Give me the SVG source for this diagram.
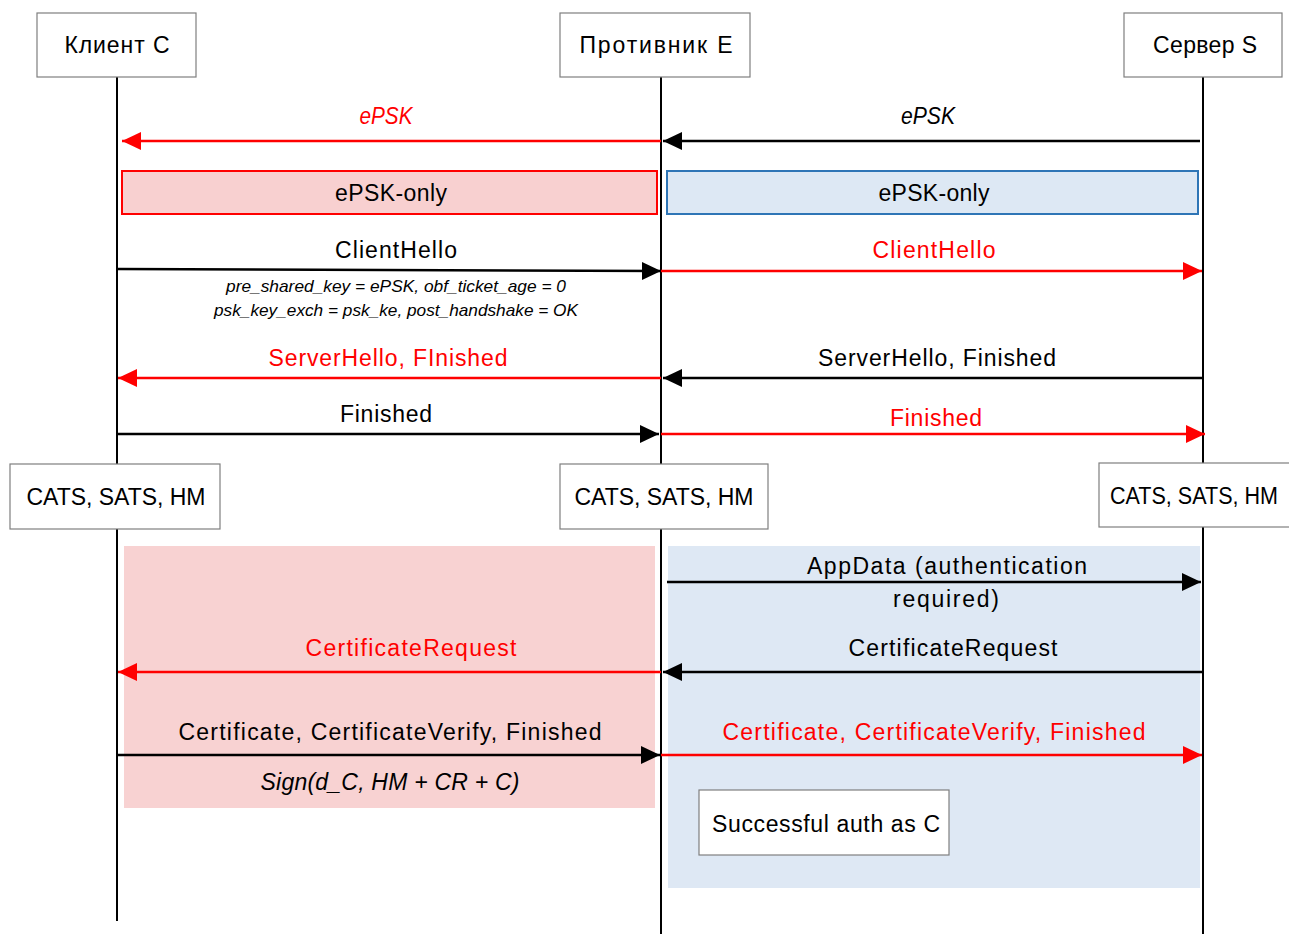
<svg xmlns="http://www.w3.org/2000/svg" width="1289" height="934" viewBox="0 0 1289 934">
<defs>
<style>
.box{fill:#ffffff;stroke:#7f7f7f;stroke-width:1.2}
.life{stroke:#000;stroke-width:2;fill:none}
.t{font-family:"Liberation Sans",Arial,sans-serif;font-size:23px;fill:#000;text-anchor:middle}
.it{font-style:italic}
.red{fill:#ff0000}
.sm{font-size:16.5px}
.ab{stroke:#000;stroke-width:2.5;fill:none}
.ar{stroke:#ff0000;stroke-width:2.5;fill:none}
</style>
<marker id="hb" markerUnits="userSpaceOnUse" markerWidth="20" markerHeight="20" refX="19" refY="10" orient="auto">
<path d="M0,1 L19,10 L0,19 z" fill="#000"/>
</marker>
<marker id="hr" markerUnits="userSpaceOnUse" markerWidth="20" markerHeight="20" refX="19" refY="10" orient="auto">
<path d="M0,1 L19,10 L0,19 z" fill="#ff0000"/>
</marker>
</defs>
<rect width="1289" height="934" fill="#ffffff"/>

<g id="regions">
<rect id="region-client" x="124" y="546" width="531" height="262" fill="#f8d2d2"/>
<rect id="region-server" x="668" y="546" width="532" height="342" fill="#dee8f4"/>
</g>

<g id="lifelines">
<line class="life" x1="117" y1="77" x2="117" y2="921"/>
<line class="life" x1="661" y1="77" x2="661" y2="934"/>
<line class="life" x1="1203" y1="77" x2="1203" y2="934"/>
</g>

<g id="node-client">
<rect class="box" x="37" y="13" width="159" height="64"/>
<text class="t" x="117" y="53" textLength="105" lengthAdjust="spacing">Клиент С</text>
</g>
<g id="node-adversary">
<rect class="box" x="560" y="13" width="190" height="64"/>
<text class="t" x="656" y="53" textLength="153" lengthAdjust="spacing">Противник  E</text>
</g>
<g id="node-server">
<rect class="box" x="1124" y="13" width="158" height="64"/>
<text class="t" x="1205" y="53" textLength="104" lengthAdjust="spacing">Сервер S</text>
</g>

<g id="node-epsk-only-client">
<rect x="122" y="171" width="535" height="43" fill="#f8d0d0" stroke="#ff0000" stroke-width="2"/>
<text class="t" x="391" y="201" textLength="112" lengthAdjust="spacing">ePSK-only</text>
</g>
<g id="node-epsk-only-server">
<rect x="667" y="171" width="531" height="43" fill="#dde8f4" stroke="#2e75b6" stroke-width="2"/>
<text class="t" x="934" y="201" textLength="111" lengthAdjust="spacing">ePSK-only</text>
</g>

<g id="node-cats-client">
<rect class="box" x="10" y="464" width="210" height="65"/>
<text class="t" x="116" y="505" textLength="179" lengthAdjust="spacing">CATS, SATS, HM</text>
</g>
<g id="node-cats-adversary">
<rect class="box" x="560" y="464" width="208" height="65"/>
<text class="t" x="664" y="505" textLength="179" lengthAdjust="spacing">CATS, SATS, HM</text>
</g>
<g id="node-cats-server">
<rect class="box" x="1099" y="463" width="200" height="64"/>
<text class="t" x="1110" y="504" style="text-anchor:start" textLength="168" lengthAdjust="spacingAndGlyphs">CATS, SATS, HM</text>
</g>

<g id="node-success">
<rect class="box" x="699" y="790" width="250" height="65"/>
<text class="t" x="826" y="832" textLength="228" lengthAdjust="spacing">Successful auth as C</text>
</g>

<g id="connectors">
<line class="ar" x1="661" y1="141" x2="122" y2="141" marker-end="url(#hr)"/>
<line class="ab" x1="1200" y1="141" x2="663" y2="141" marker-end="url(#hb)"/>
<line class="ab" x1="117" y1="269" x2="661" y2="271" marker-end="url(#hb)"/>
<line class="ar" x1="661" y1="271" x2="1202" y2="271" marker-end="url(#hr)"/>
<line class="ar" x1="661" y1="378" x2="118" y2="378" marker-end="url(#hr)"/>
<line class="ab" x1="1203" y1="378" x2="663" y2="378" marker-end="url(#hb)"/>
<line class="ab" x1="117" y1="434" x2="659" y2="434" marker-end="url(#hb)"/>
<line class="ar" x1="661" y1="434" x2="1205" y2="434" marker-end="url(#hr)"/>
<line class="ab" x1="667" y1="582" x2="1201" y2="582" marker-end="url(#hb)"/>
<line class="ar" x1="661" y1="672" x2="118" y2="672" marker-end="url(#hr)"/>
<line class="ab" x1="1203" y1="672" x2="663" y2="672" marker-end="url(#hb)"/>
<line class="ab" x1="117" y1="755" x2="660" y2="755" marker-end="url(#hb)"/>
<line class="ar" x1="661" y1="755" x2="1202" y2="755" marker-end="url(#hr)"/>
</g>

<g id="labels">
<text class="t it red" x="386" y="124" style="font-size:24px" textLength="53" lengthAdjust="spacingAndGlyphs">ePSK</text>
<text class="t it" x="928" y="124" style="font-size:24px" textLength="54" lengthAdjust="spacingAndGlyphs">ePSK</text>
<text class="t" x="396" y="258" textLength="122" lengthAdjust="spacing">ClientHello</text>
<text class="t red" x="934" y="258" textLength="123" lengthAdjust="spacing">ClientHello</text>
<text class="t it sm" x="396" y="292" textLength="340" lengthAdjust="spacingAndGlyphs">pre_shared_key = ePSK, obf_ticket_age = 0</text>
<text class="t it sm" x="396" y="316" textLength="364" lengthAdjust="spacingAndGlyphs">psk_key_exch = psk_ke, post_handshake = OK</text>
<text class="t red" x="388" y="366" textLength="239" lengthAdjust="spacing">ServerHello, FInished</text>
<text class="t" x="937" y="366" textLength="238" lengthAdjust="spacing">ServerHello, Finished</text>
<text class="t" x="386" y="422" textLength="92" lengthAdjust="spacing">Finished</text>
<text class="t red" x="936" y="426" textLength="92" lengthAdjust="spacing">Finished</text>
<text class="t" x="947" y="574" textLength="280" lengthAdjust="spacing">AppData (authentication</text>
<text class="t" x="946" y="607" textLength="106" lengthAdjust="spacing">required)</text>
<text class="t red" x="411" y="656" textLength="211" lengthAdjust="spacing">CertificateRequest</text>
<text class="t" x="953" y="656" textLength="209" lengthAdjust="spacing">CertificateRequest</text>
<text class="t" x="390" y="740" textLength="423" lengthAdjust="spacing">Certificate, CertificateVerify, Finished</text>
<text class="t red" x="934" y="740" textLength="423" lengthAdjust="spacing">Certificate, CertificateVerify, Finished</text>
<text class="t it" x="390" y="790" textLength="259" lengthAdjust="spacing">Sign(d_C, HM + CR + C)</text>
</g>
</svg>
